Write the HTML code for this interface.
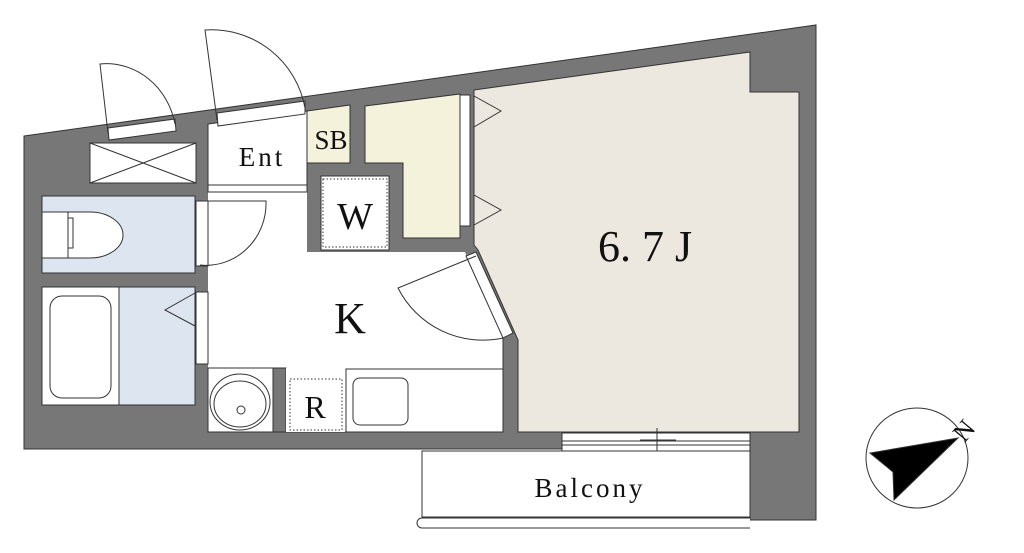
<!DOCTYPE html>
<html><head><meta charset="utf-8"><style>
html,body{margin:0;padding:0;background:#fff;}
body{position:relative;width:1024px;height:553px;overflow:hidden;}
svg{display:block;}
.t{font-family:"Liberation Serif",serif;fill:#111;}
.m{font-family:"Liberation Serif",serif;fill:#111;}
#n{position:absolute;left:955px;top:418px;font:26px "Liberation Serif",serif;color:#111;transform:rotate(-50deg);line-height:26px;}
</style></head><body>
<svg width="1024" height="553" viewBox="0 0 1024 553" xmlns="http://www.w3.org/2000/svg">
<g stroke="#333" stroke-width="1">
<polygon points="24,136 816,25 816,520 750,520 750,449 24,449" fill="#777"/>
<polygon points="474,90 750,52 750,92 799,92 799,432 518,432 518,340 478,250 474,245" fill="#ece8df"/>
<polygon points="208,192 307,192 307,252 465,252 503,338 503,432 208,432" fill="#fff" stroke="none"/>
<line x1="208" y1="432" x2="272" y2="432"/><line x1="286" y1="432" x2="503" y2="432"/>
<line x1="503" y1="338" x2="503" y2="432"/>
<polygon points="208,124 307,111 307,185 208,185" fill="#fff"/>
<rect x="208" y="185" width="99" height="7" fill="#fff"/>
<polygon points="307,111 350,105 350,163 307,163" fill="#f5f2dc"/>
<polygon points="365,106 460,94 460,238 403,238 403,163 365,163" fill="#f5f2dc"/>
<rect x="460" y="95" width="10" height="131" fill="#fff"/>
<rect x="321" y="176" width="68" height="74" fill="#fff"/>
<rect x="323" y="179" width="64" height="68" fill="none" stroke-dasharray="1.5,2"/>
<rect x="90" y="143" width="106" height="40" fill="#fff"/>
<line x1="90" y1="143" x2="196" y2="183"/><line x1="90" y1="183" x2="196" y2="143"/>
<rect x="42" y="196" width="153" height="77" fill="#dde5f0"/>
<rect x="196" y="201" width="12" height="65" fill="#fff"/>
<path d="M42,212 L68,212 L68,258 L42,258 Z" fill="#fff"/>
<path d="M68,212 L90,212 A33,23 0 0 1 90,258 L68,258 Z" fill="#fff"/>
<rect x="68" y="218" width="5" height="30" fill="#fff"/>
<path d="M208,201 L266,201 A60,62 0 0 1 200,265" fill="none"/>
<rect x="42" y="287" width="77" height="118" fill="#fff"/>
<rect x="119" y="287" width="76" height="118" fill="#dde5f0"/>
<rect x="50" y="296" width="61" height="102" rx="12" fill="#fff"/>
<rect x="196" y="292" width="12" height="72" fill="#fff"/>
<polyline points="195,293 165,310 195,326" fill="none"/>
<rect x="208" y="368" width="65" height="64" fill="#fff"/>
<ellipse cx="240" cy="402" rx="30" ry="28" fill="#fff"/>
<ellipse cx="240" cy="404" rx="26" ry="23" fill="#fff"/>
<circle cx="241" cy="410" r="4" fill="#fff"/>
<rect x="273" y="368" width="13" height="64" fill="#777"/>
<rect x="286" y="368" width="59" height="64" fill="#fff" stroke="none"/>
<rect x="290" y="379" width="52" height="51" fill="none" stroke-dasharray="1.5,2"/>
<rect x="346" y="369" width="157" height="63" fill="#fff"/>
<rect x="353" y="378" width="55" height="47" rx="7" fill="#fff"/>
<polygon points="466,256 476,252 513,333 503,338" fill="#fff"/>
<path d="M476,256 L398,288 A95,95 0 0 0 503,338" fill="none"/>
<polyline points="474,96 501,111 474,127" fill="none"/>
<polyline points="474,195 501,210 474,225" fill="none"/>
<polygon points="108,128 175,119 176,131 109,140" fill="#fff"/>
<polygon points="217,113 305,101 305,114 218,126" fill="#fff"/>
<path d="M108,133 L100,64 A70,75 0 0 1 175,124" fill="none"/>
<path d="M217,120 L205,30 A95,95 0 0 1 305,108" fill="none"/>
<rect x="562" y="433" width="188" height="18" fill="#fff"/>
<line x1="562" y1="441" x2="750" y2="441"/><line x1="562" y1="445" x2="750" y2="445"/>
<line x1="640" y1="440" x2="676" y2="440"/><line x1="657" y1="428" x2="657" y2="455"/>
<rect x="422" y="451" width="328" height="66" fill="#fff"/>
<path d="M750,518 L422,518 A5,5 0 0 0 422,528 L750,528" fill="#fff"/>
<ellipse cx="917" cy="458" rx="51" ry="50" fill="#fff"/>
<polygon points="958,438 870,453 893,472 894,500" fill="#000"/>
</g>
<text x="645" y="261" text-anchor="middle" class="t" style="font-size:44px">6. 7 J</text>
<text x="350" y="333" text-anchor="middle" class="t" style="font-size:44px">K</text>
<text x="355" y="229" text-anchor="middle" class="t" style="font-size:38px">W</text>
<text x="262" y="166" text-anchor="middle" class="m" style="font-size:27px;letter-spacing:3px">Ent</text>
<text x="331" y="149" text-anchor="middle" class="t" style="font-size:27px">SB</text>
<text x="315" y="418" text-anchor="middle" class="t" style="font-size:32px">R</text>
<text x="590" y="497" text-anchor="middle" class="m" style="font-size:27px;letter-spacing:3px">Balcony</text>
</svg>
<div id="n">N</div>
</body></html>
